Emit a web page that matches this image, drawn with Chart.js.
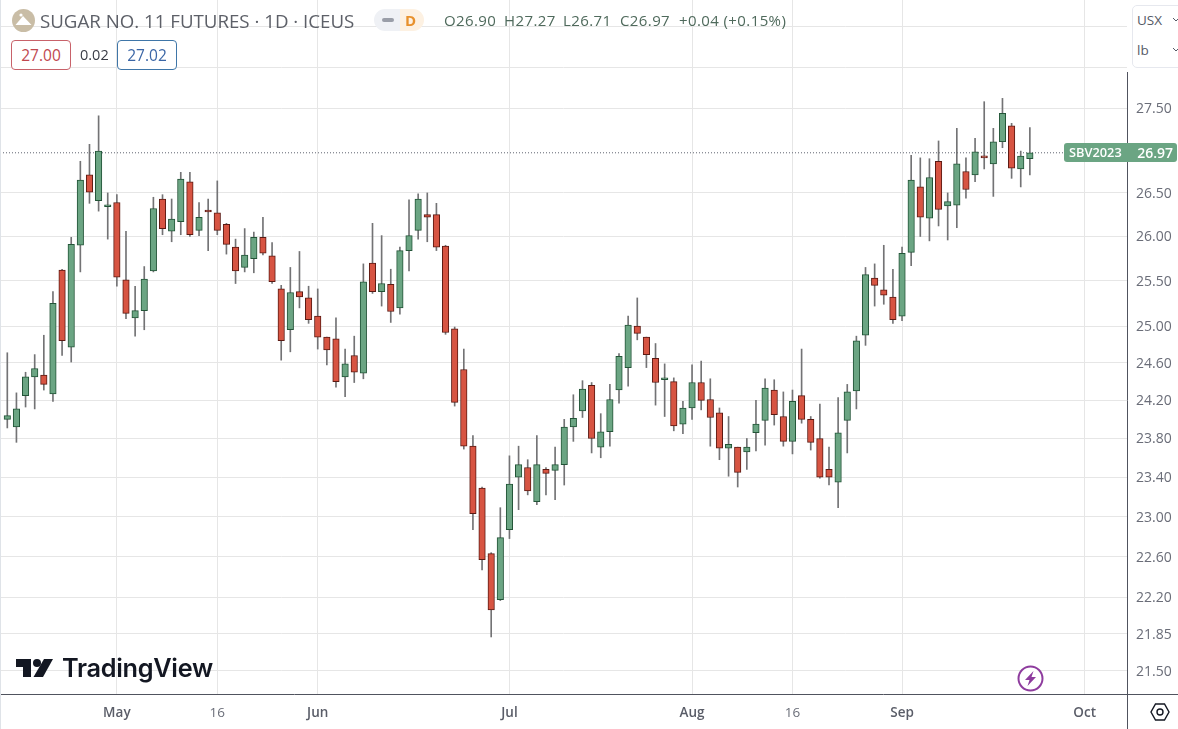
<!DOCTYPE html>
<html lang="en">
<head>
  <meta charset="UTF-8">
  <title>Sugar No. 11 Futures</title>
  <style>
    body {
      margin: 0;
      background-color: #fff;
      font-family: "Open Sans", sans-serif;
      overflow: hidden;
    }
    #wrap {
      position: relative;
      width: 1178px;
      height: 729px;
      overflow: hidden;
    }
    canvas { position: absolute; left: 0; top: 0; }
    .abs { position: absolute; white-space: nowrap; }
    .title { left: 40px; top: 8px; font-size: 18.7px; line-height: 25px; color: #5d6068; }
    .ohlc { top: 9px; font-size: 15px; line-height: 22px; color: #4f6a5c; letter-spacing: 0.4px; }
    .quote {
      top: 40px; width: 58px; height: 28px; border: 1px solid; border-radius: 4px;
      text-align: center; font-size: 15.5px; line-height: 28px; background: #fff;
    }
    .units {
      left: 1132px; top: 5px; width: 60px; height: 61px; border: 1px solid #e6e8ee;
      border-radius: 5px; background: #fff;
    }
    .units span { position: absolute; left: 4px; font-size: 13.5px; color: #555a66; }
    .lastprice {
      left: 1064px; top: 143px; width: 113px; height: 19px; border-radius: 3px;
      background: #6ba583; color: #fff; font-size: 14px; line-height: 19px; font-weight: 600;
    }
    .logotext { left: 62px; top: 650px; font-family: Inter, sans-serif; font-weight: 600; font-size: 25.3px; line-height: 36px; color: #131722; letter-spacing: -0.3px; }
  </style>
  <script src="https://cdn.jsdelivr.net/npm/chart.js"></script>
</head>
<body>
<div id="wrap">
  <canvas id="chart" width="1178" height="729"></canvas>

  <svg class="abs" style="left:12px;top:9px" width="23" height="23" viewBox="0 0 23 23">
    <circle cx="11.5" cy="11.5" r="11.5" fill="#c9bda6"/>
    <path d="M3.5 16 L11 7 L19.5 16 Z" fill="#fff"/>
    <circle cx="9" cy="6" r="1.6" fill="#fff"/>
  </svg>
  <div class="abs title">SUGAR NO. 11 FUTURES · 1D · ICEUS</div>
  <div class="abs" style="left:374px;top:9px;width:26px;height:22px;background:#eff1f5;border-radius:11px 0 0 11px"></div>
  <div class="abs" style="left:382px;top:18px;width:12px;height:4px;background:#9a9ea8;border-radius:2px"></div>
  <div class="abs" style="left:400px;top:9px;width:24px;height:22px;background:#fdf1e2;border-radius:0 11px 11px 0"></div>
  <div class="abs" style="left:405px;top:9px;font-size:15px;line-height:22px;font-weight:700;color:#e8912d">D</div>
  <div class="abs ohlc" style="left:444px">O26.90</div>
  <div class="abs ohlc" style="left:504px">H27.27</div>
  <div class="abs ohlc" style="left:563px">L26.71</div>
  <div class="abs ohlc" style="left:620px">C26.97</div>
  <div class="abs ohlc" style="left:679px">+0.04 (+0.15%)</div>

  <div class="abs quote" style="left:11px;border-color:#c8626a;color:#c0474f">27.00</div>
  <div class="abs" style="left:80px;top:40px;font-size:14.5px;line-height:30px;color:#3a3d46">0.02</div>
  <div class="abs quote" style="left:117px;border-color:#3f76a8;color:#3b66a6">27.02</div>

  <div class="abs units">
    <span style="top:5px">USX</span>
    <span style="top:35px">lb</span>
  </div>
  <svg class="abs" style="left:1172px;top:17px" width="6" height="36">
    <polyline points="1,1 4,4 7,1" fill="none" stroke="#555a66"/>
    <polyline points="1,31 4,34 7,31" fill="none" stroke="#555a66"/>
  </svg>

  <div class="abs lastprice"><span style="position:absolute;left:5px;font-size:12.8px">SBV2023</span><span style="position:absolute;right:4px">26.97</span></div>

  <svg class="abs" style="left:16px;top:658px" width="38" height="20" viewBox="0 0 38 20">
    <path d="M0 1 H15 V19 H7 V9 H0 Z" fill="#131722"/>
    <circle cx="21" cy="5" r="4" fill="#131722"/>
    <path d="M28 1 H37 L27 19 H17.5 Z" fill="#131722"/>
  </svg>
  <div class="abs logotext">TradingView</div>

  <svg class="abs" style="left:1017px;top:665px" width="27" height="27" viewBox="0 0 27 27">
    <circle cx="13.5" cy="13.5" r="12" fill="#fff" stroke="#8e3c9e" stroke-width="2"/>
    <path d="M16.5 6 L8 15 H12.5 L10.5 21 L19 12 H14.5 Z" fill="#8e3c9e"/>
  </svg>
  <svg class="abs" style="left:1150px;top:702px" width="20" height="20" viewBox="0 0 20 20">
    <path d="M5.5 2 H14.5 L19 10 L14.5 18 H5.5 L1 10 Z" fill="none" stroke="#131722" stroke-width="1.4"/>
    <circle cx="10" cy="10" r="3" fill="none" stroke="#131722" stroke-width="1.4"/>
  </svg>
</div>

<script>
// daily bars, Apr 2023 -> 22 Sep 2023
const opens = [24.00,23.92,24.25,24.45,24.47,24.27,25.62,24.77,25.90,26.71,
  26.41,26.34,26.39,25.51,25.09,25.17,25.61,26.43,26.06,26.17,
  26.63,26.07,26.30,26.27,26.14,25.88,25.65,25.75,25.99,25.78,
  25.41,24.96,25.38,25.31,25.11,24.88,24.86,24.45,24.68,24.49,
  25.70,25.38,25.46,25.20,25.84,26.07,26.25,26.25,25.89,24.97,
  24.53,23.72,23.29,22.63,22.18,22.87,23.40,23.50,23.15,23.48,
  23.47,23.53,23.92,24.09,24.36,23.71,23.87,24.31,24.55,25.00,
  24.88,24.65,24.42,24.40,23.95,24.12,24.39,24.21,24.07,23.70,
  23.71,23.66,23.86,23.99,24.31,24.03,23.77,24.25,24.00,23.80,
  23.48,23.35,23.99,24.30,24.90,25.53,25.40,25.32,25.11,25.82,
  26.57,26.21,26.87,26.35,26.36,26.75,26.71,26.93,26.84,27.10,
  27.29,26.78,26.90];
const closes = [24.04,24.11,24.45,24.54,24.37,25.25,24.84,25.91,26.65,26.51,
  26.99,26.35,25.54,25.14,25.17,25.52,26.32,26.09,26.20,26.66,
  26.02,26.22,26.28,26.07,25.91,25.61,25.79,25.99,25.81,25.49,
  24.84,25.37,25.32,25.07,24.88,24.74,24.40,24.59,24.50,25.49,
  25.38,25.47,25.16,25.84,26.01,26.43,26.22,25.88,24.93,24.18,
  23.72,23.03,22.57,22.08,22.79,23.33,23.53,23.26,23.53,23.44,
  23.53,23.92,24.01,24.32,23.80,23.87,24.21,24.67,25.01,24.92,
  24.69,24.39,24.43,23.93,24.12,24.39,24.20,24.02,23.70,23.74,
  23.45,23.71,23.95,24.33,24.05,23.77,24.19,24.00,23.76,23.40,
  23.40,23.86,24.29,24.84,25.57,25.45,25.34,25.07,25.81,26.65,
  26.22,26.68,26.31,26.40,26.84,26.54,26.98,26.91,27.10,27.44,
  26.79,26.93,26.97];
const highs = [24.71,24.28,24.50,24.69,24.90,25.38,25.63,25.99,26.87,27.07,
  27.41,26.50,26.48,26.06,25.44,25.66,26.45,26.48,26.43,26.74,
  26.74,26.39,26.43,26.64,26.15,25.97,26.09,26.05,26.22,25.93,
  25.45,25.65,25.83,25.44,25.41,24.88,25.09,24.75,24.89,25.69,
  26.15,26.01,25.63,25.88,26.42,26.49,26.50,26.38,25.90,24.99,
  24.75,23.83,23.30,22.64,23.09,23.62,23.72,23.58,23.83,23.50,
  23.71,24.00,24.26,24.41,24.39,24.06,24.37,24.70,25.11,25.31,
  24.88,24.81,24.59,24.44,24.19,24.58,24.62,24.43,24.12,24.03,
  23.71,23.80,24.20,24.43,24.42,24.29,24.31,24.75,24.03,24.16,
  23.71,24.23,24.37,24.89,25.65,25.69,25.90,25.63,25.88,26.94,
  26.91,26.90,27.11,26.50,27.26,26.91,27.14,27.58,27.26,27.62,
  27.32,26.99,27.27];
const lows = [23.91,23.76,24.13,24.11,24.31,24.19,24.68,24.61,25.60,26.38,
  26.29,25.97,25.44,25.08,24.89,24.96,25.60,26.02,25.94,26.02,
  26.00,26.01,25.84,26.02,25.80,25.47,25.60,25.59,25.79,25.47,
  24.63,24.72,25.20,25.03,24.75,24.58,24.34,24.24,24.39,24.43,
  25.36,25.22,25.04,25.13,25.61,25.97,25.94,25.84,24.91,24.14,
  23.69,22.87,22.47,21.82,22.17,22.78,23.07,23.22,23.12,23.22,
  23.17,23.32,23.77,24.02,23.65,23.60,23.72,24.17,24.35,24.85,
  24.55,24.15,24.03,23.88,23.85,24.00,24.10,23.72,23.58,23.41,
  23.30,23.48,23.67,23.73,23.94,23.72,23.64,23.96,23.68,23.39,
  23.32,23.09,23.65,24.11,24.79,25.22,25.24,25.03,25.06,25.67,
  26.00,25.95,26.12,25.96,26.10,26.44,26.63,26.78,26.46,27.03,
  26.67,26.57,26.71];

const dateTicks = [12, 23, 34, 55, 75, 86, 98, 118];
const dateLabels = ['May', '16', 'Jun', 'Jul', 'Aug', '16', 'Sep', 'Oct'];
const priceTicks = [28.5, 28, 27.5, 26.5, 26, 25.5, 25, 24.6, 24.2, 23.8, 23.4, 23, 22.6, 22.2, 21.85, 21.5];
const priceLabels = ['', '', '27.50', '26.50', '26.00', '25.50', '25.00', '24.60', '24.20', '23.80', '23.40', '23.00', '22.60', '22.20', '21.85', '21.50'];
const lastPrice = 26.97;

const UP = '#6ba583', DOWN = '#d75442';
const UP_EDGE = '#225437', DOWN_EDGE = '#5b1a13';
const WICK = '#737375';

const isUp = i => closes[i] >= opens[i];

// frame lines: price axis stops under the currency box, time axis runs full width
const framePlugin = {
  id: 'frame',
  afterDraw(chart) {
    const { ctx, chartArea } = chart;
    ctx.save();
    ctx.strokeStyle = '#50535e';
    ctx.lineWidth = 1;
    ctx.beginPath();
    ctx.moveTo(chartArea.right + 0.5, 72);
    ctx.lineTo(chartArea.right + 0.5, chart.height);
    ctx.moveTo(0, chartArea.bottom + 0.5);
    ctx.lineTo(chart.width, chartArea.bottom + 0.5);
    ctx.stroke();
    ctx.strokeStyle = '#dfe3e8';
    ctx.beginPath();
    ctx.moveTo(0.5, 0);
    ctx.lineTo(0.5, chart.height);
    ctx.stroke();
    ctx.restore();
  }
};

new Chart(document.getElementById('chart'), {
  type: 'bar',
  plugins: [framePlugin],
  data: {
    datasets: [
      {
        label: 'body',
        data: opens.map((o, i) => ({ x: i, y: [o, closes[i]] })),
        backgroundColor: opens.map((o, i) => isUp(i) ? UP : DOWN),
        borderColor: opens.map((o, i) => isUp(i) ? UP_EDGE : DOWN_EDGE),
        borderWidth: 1,
        borderSkipped: false,
        barThickness: 6.5,
        minBarLength: 2,
        grouped: false
      },
      {
        label: 'wick',
        data: highs.map((h, i) => ({ x: i, y: [lows[i], h] })),
        backgroundColor: WICK,
        borderWidth: 0,
        barThickness: 1,
        grouped: false
      },
      {
        type: 'line',
        label: 'last',
        data: [{ x: -0.8, y: lastPrice }, { x: 122.64, y: lastPrice }],
        borderColor: '#5f6370',
        borderWidth: 1,
        borderDash: [1, 2],
        pointRadius: 0
      }
    ]
  },
  options: {
    responsive: false,
    animation: false,
    layout: { padding: 0 },
    plugins: { legend: { display: false }, tooltip: { enabled: false } },
    scales: {
      x: {
        type: 'linear',
        min: -0.8,
        max: 122.64,
        offset: false,
        bounds: 'data',
        afterBuildTicks: s => { s.ticks = dateTicks.map(v => ({ value: v })); },
        afterFit: s => { s.height = 35; s.paddingLeft = 0; s.paddingRight = 0; },
        grid: { color: '#e6e6e6', offset: false, drawTicks: false },
        border: { display: false },
        ticks: {
          autoSkip: false,
          maxRotation: 0,
          padding: 11,
          color: ctx => ctx.index === 1 || ctx.index === 5 ? '#6a6d78' : '#5a5d68',
          font: ctx => ({
            family: '"Open Sans", sans-serif',
            size: 13.5,
            weight: ctx.index === 1 || ctx.index === 5 ? '400' : '600'
          }),
          callback: (v, i) => dateLabels[i]
        }
      },
      y: {
        type: 'logarithmic',
        position: 'right',
        min: 21.282,
        max: 28.835,
        afterBuildTicks: s => { s.ticks = priceTicks.map(v => ({ value: v })); },
        afterFit: s => { s.width = 51; s.paddingTop = 0; s.paddingBottom = 0; },
        grid: { color: '#e6e6e6', drawTicks: false },
        border: { display: false },
        ticks: {
          autoSkip: false,
          padding: 9,
          labelOffset: 1,
          color: '#6a6d78',
          font: { family: '"Open Sans", sans-serif', size: 14 },
          callback: (v, i) => priceLabels[i]
        }
      }
    }
  }
});
</script>
</body>
</html>
